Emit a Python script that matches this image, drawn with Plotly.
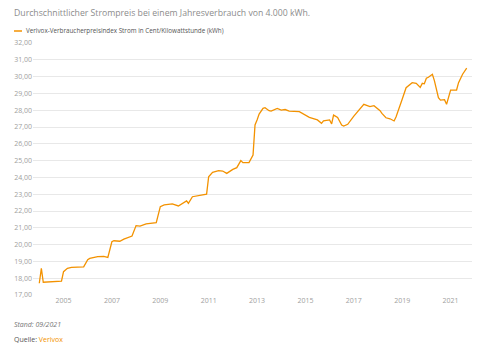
import plotly.graph_objects as go

# Monthly readings of the Verivox electricity price index (Cent/kWh)
months = [
    "2004-01", "2004-02", "2004-03", "2004-12", "2005-01", "2005-03", "2005-05",
    "2005-11", "2006-01", "2006-02", "2006-06", "2006-09", "2006-11", "2007-01",
    "2007-02", "2007-05", "2007-07", "2007-11", "2008-01", "2008-03", "2008-06",
    "2008-11", "2009-01", "2009-03", "2009-07", "2009-10", "2010-02", "2010-03",
    "2010-05", "2010-09", "2010-12", "2011-01", "2011-03", "2011-06", "2011-08",
    "2011-10", "2012-01", "2012-03", "2012-05", "2012-06", "2012-09", "2012-11",
    "2012-12", "2013-01", "2013-02", "2013-04", "2013-05", "2013-07", "2013-08",
    "2013-11", "2014-01", "2014-03", "2014-05", "2014-10", "2015-01", "2015-03",
    "2015-07", "2015-09", "2015-10", "2016-01", "2016-02", "2016-03", "2016-05",
    "2016-07", "2016-08", "2016-10", "2017-01", "2017-03", "2017-04", "2017-06",
    "2017-09", "2017-11", "2018-02", "2018-03", "2018-05", "2018-07", "2018-09",
    "2018-10", "2019-01", "2019-03", "2019-06", "2019-08", "2019-10", "2019-11",
    "2019-12", "2020-01", "2020-02", "2020-04", "2020-05", "2020-07", "2020-08",
    "2020-10", "2020-11", "2021-01", "2021-04", "2021-05", "2021-07", "2021-09",
]
price = [
    17.70, 18.59, 17.76, 17.83, 18.39, 18.59, 18.65,
    18.67, 19.10, 19.18, 19.28, 19.30, 19.24, 20.17,
    20.23, 20.20, 20.33, 20.51, 21.13, 21.10, 21.23,
    21.30, 22.26, 22.36, 22.42, 22.30, 22.60, 22.46,
    22.85, 22.95, 23.00, 24.04, 24.30, 24.40, 24.38,
    24.24, 24.48, 24.58, 25.00, 24.88, 24.88, 25.33,
    27.12, 27.42, 27.77, 28.11, 28.15, 27.97, 27.95,
    28.11, 28.01, 28.04, 27.95, 27.91, 27.71, 27.57,
    27.42, 27.22, 27.36, 27.42, 27.18, 27.71, 27.57,
    27.12, 27.06, 27.16, 27.65, 27.95, 28.11, 28.35,
    28.21, 28.27, 27.97, 27.81, 27.55, 27.49, 27.36,
    27.61, 28.65, 29.34, 29.64, 29.60, 29.36, 29.60,
    29.57, 29.90, 29.96, 30.14, 29.76, 28.74, 28.60,
    28.63, 28.35, 29.20, 29.20, 29.64, 30.14, 30.50,
]

year_ticks = ["2005", "2007", "2009", "2011", "2013", "2015", "2017", "2019", "2021"]
value_ticks = list(range(17, 33))

title_text = "Durchschnittlicher Strompreis bei einem Jahresverbrauch von 4.000 kWh."
series_name = "Verivox-Verbraucherpreisindex Strom in Cent/Kilowattstunde (kWh)"

ORANGE = "#f39200"
FONT = "Open Sans"

W, H = 500, 347
L, R, T, B = 33, 28, 43, 52
pw, ph = W - L - R, H - T - B


def px_x(px):
    return (px - L) / pw


def px_y(py):
    return 1 - (py - T) / ph


fig = go.Figure()
fig.add_trace(go.Scatter(
    x=[m + "-01" for m in months],
    y=price,
    mode="lines",
    name=series_name,
    line=dict(color=ORANGE, width=1.3),
    showlegend=False,
))

fig.update_layout(
    width=W, height=H,
    margin=dict(l=L, r=R, t=T, b=B),
    paper_bgcolor="white", plot_bgcolor="white",
    separators=",.",
    font=dict(family=FONT, color="#999999", size=7),
    xaxis=dict(
        range=["2003-09-28", "2021-11-20"],
        tickvals=[y + "-01-01" for y in year_ticks],
        ticktext=year_ticks,
        showgrid=False, zeroline=False, showline=False,
        ticks="", tickfont=dict(size=7, color="#a0a0a0"),
    ),
    yaxis=dict(
        range=[17, 32],
        tickvals=value_ticks,
        tickformat=".2f",
        showgrid=True, gridcolor="#e8e8e8", gridwidth=1,
        zeroline=False, showline=False, ticks="",
        tickfont=dict(size=7, color="#a0a0a0"),
    ),
)

# legend swatch
fig.add_shape(type="line", xref="paper", yref="paper",
              x0=px_x(14), x1=px_x(22), y0=px_y(31), y1=px_y(31),
              line=dict(color=ORANGE, width=1.5))

annotations = [
    dict(text=title_text, x=px_x(12), y=px_y(13), xanchor="left", yanchor="middle",
         font=dict(size=8.7, color="#8c8c8c", family=FONT)),
    dict(text=series_name, x=px_x(24), y=px_y(31), xanchor="left", yanchor="middle",
         font=dict(size=6.3, color="#555555", family=FONT)),
    dict(text="<i>Stand: 09/2021</i>", x=px_x(12), y=px_y(324), xanchor="left", yanchor="middle",
         font=dict(size=7, color="#777777", family=FONT)),
    dict(text="Quelle: <span style='color:%s'>Verivox</span>" % ORANGE,
         x=px_x(12), y=px_y(339), xanchor="left", yanchor="middle",
         font=dict(size=7, color="#555555", family=FONT)),
]
for a in annotations:
    fig.add_annotation(xref="paper", yref="paper", showarrow=False, **a)

fig.write_html("out.html")
